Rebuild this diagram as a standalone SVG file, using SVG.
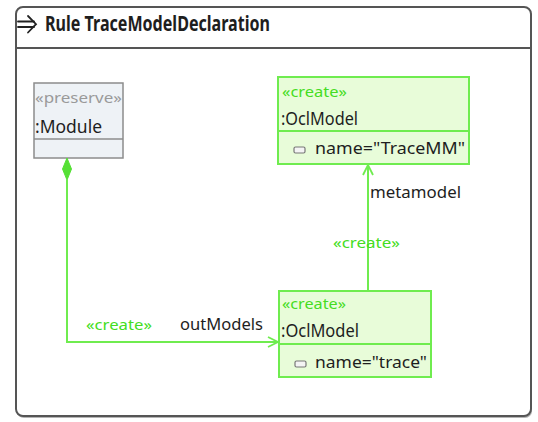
<svg xmlns="http://www.w3.org/2000/svg" width="538" height="422" viewBox="0 0 538 422">
<style>
text{font-family:"Noto Sans","Open Sans","DejaVu Sans",sans-serif;fill:#1e1e1e}
.st{font-size:15px;fill:#44dd22}
.pr{font-size:15px;fill:#9a9a9a}
.nm{font-size:18px}
.at{font-size:17px}
.lb{font-size:17px}
.gbox{fill:#e8fcd9;stroke:#6fec4f;stroke-width:2}
.gline{fill:none;stroke:#6fec4f;stroke-width:2}
.icon{fill:#f4f4f4;stroke:#777;stroke-width:1.2}
</style>
<defs>
<marker id="open" viewBox="0 0 12 12" refX="11" refY="6" markerWidth="12" markerHeight="12" markerUnits="userSpaceOnUse" orient="auto">
<path d="M1,1 L11,6 L1,11" fill="none" stroke="#6fec4f" stroke-width="1.8"/>
</marker>
</defs>
<g id="frame">
<rect x="17" y="9" width="515" height="409" rx="7" fill="#6a6a6a" opacity="0.5"/>
<rect x="16" y="7" width="515" height="409" rx="7" fill="#fff" stroke="#555" stroke-width="2"/>
<line x1="16" y1="48" x2="531" y2="48" stroke="#555" stroke-width="2"/>
<g fill="none" stroke="#222" stroke-width="1.8" stroke-linecap="round">
<path d="M18,21.5 H34 M18,27 H34"/>
<path d="M28,16 L36,24.2 L28,32.5"/>
</g>
<text x="45" y="31" font-size="21" font-weight="bold" textLength="225" lengthAdjust="spacingAndGlyphs">Rule TraceModelDeclaration</text>
</g>
<g id="module">
<rect x="34" y="83" width="89" height="75" fill="#eef2f6" stroke="#8c8c8c" stroke-width="1.5"/>
<line x1="34" y1="139" x2="123" y2="139" stroke="#8c8c8c" stroke-width="1.5"/>
<text class="pr" x="35" y="103" textLength="87" lengthAdjust="spacingAndGlyphs">«preserve»</text>
<text class="nm" x="35" y="133" textLength="67" lengthAdjust="spacingAndGlyphs">:Module</text>
</g>
<g id="tracemm">
<rect class="gbox" x="278" y="77" width="191" height="87"/>
<line class="gline" x1="278" y1="131" x2="469" y2="131"/>
<text class="st" x="282" y="97" textLength="65" lengthAdjust="spacingAndGlyphs">«create»</text>
<text class="nm" x="281" y="125" textLength="77" lengthAdjust="spacingAndGlyphs">:OclModel</text>
<rect class="icon" x="294" y="147" width="11" height="6" rx="1.5"/>
<text class="at" x="315" y="154" textLength="150" lengthAdjust="spacingAndGlyphs">name="TraceMM"</text>
</g>
<g id="trace">
<rect class="gbox" x="279" y="291" width="152" height="86"/>
<line class="gline" x1="279" y1="344" x2="431" y2="344"/>
<text class="st" x="282" y="309" textLength="64" lengthAdjust="spacingAndGlyphs">«create»</text>
<text class="nm" x="281" y="337" textLength="78" lengthAdjust="spacingAndGlyphs">:OclModel</text>
<rect class="icon" x="295" y="361" width="11" height="6" rx="1.5"/>
<text class="at" x="315" y="368" textLength="112" lengthAdjust="spacingAndGlyphs">name="trace"</text>
</g>
<g id="connectors">
<path class="gline" d="M67,180 V342 H278" marker-end="url(#open)"/>
<path d="M67,158 L71.5,169 L67,180 L62.5,169 Z" fill="#55e035" stroke="#55e035" stroke-width="1"/>
<path class="gline" d="M368,291 V165" marker-end="url(#open)"/>
<text class="lb" x="370" y="198" textLength="91" lengthAdjust="spacingAndGlyphs">metamodel</text>
<text class="st" x="333" y="248" textLength="67" lengthAdjust="spacingAndGlyphs">«create»</text>
<text class="st" x="86" y="330" textLength="66" lengthAdjust="spacingAndGlyphs">«create»</text>
<text class="lb" x="180" y="330" textLength="83" lengthAdjust="spacingAndGlyphs">outModels</text>
</g>
</svg>
